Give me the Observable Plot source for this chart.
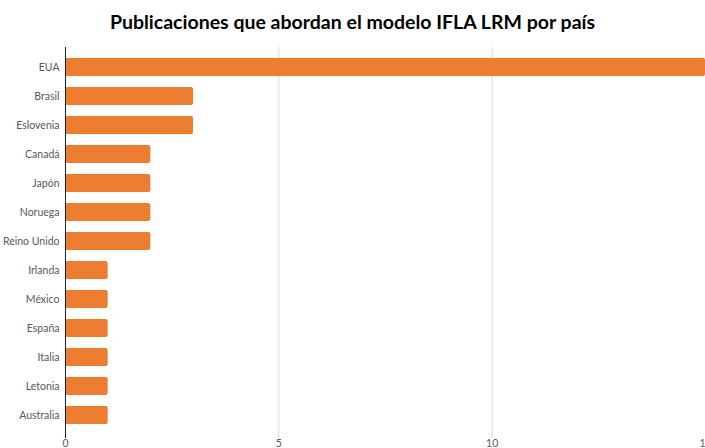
<!DOCTYPE html>
<html>
<head>
<meta charset="utf-8">
<script src="https://cdn.jsdelivr.net/npm/d3@7"></script>
<script src="https://cdn.jsdelivr.net/npm/@observablehq/plot@0.6"></script>
<style>
  html, body { margin: 0; padding: 0; background: #fff; overflow: hidden; }
  #title { height: 45px; line-height: 44px; text-align: center; font-family: Lato, "Open Sans", sans-serif; font-weight: bold; font-size: 19.5px; color: #000; }
  #chart svg { display: block; }
</style>
</head>
<body>
<div id="title">Publicaciones que abordan el modelo IFLA LRM por país</div>
<div id="chart"></div>
<script>
const countries = ["EUA", "Brasil", "Eslovenia", "Canadá", "Japón", "Noruega", "Reino Unido", "Irlanda", "México", "España", "Italia", "Letonia", "Australia"];
const counts = [15, 3, 3, 2, 2, 2, 2, 1, 1, 1, 1, 1, 1];
const xTicks = [0, 5, 10, 15];

const data = countries.map((c, i) => ({country: c, value: counts[i]}));

const chart = Plot.plot({
  width: 705,
  height: 403,
  marginTop: 2,
  marginBottom: 13,
  marginLeft: 65,
  marginRight: 0,
  style: {fontFamily: "Lato, 'Open Sans', sans-serif", fontSize: "10.5px", color: "#595959", background: "#fff", overflow: "visible"},
  x: {domain: [0, 15], ticks: xTicks, tickSize: 0, tickPadding: 5, label: null},
  y: {domain: countries, padding: 0.38, round: false, tickSize: 0, tickPadding: 6, label: null},
  marks: [
    Plot.ruleX(xTicks.slice(1), {stroke: "#d9d9d9", strokeWidth: 1, insetBottom: -3}),
    Plot.barX(data, {x: "value", y: "country", fill: "#ED7D31", rx: 2}),
    Plot.ruleX([0], {stroke: "#222", strokeWidth: 1, insetBottom: -3}),
    Plot.axisX({ticks: xTicks, tickSize: 0, tickPadding: 4, fill: "#595959"}),
    Plot.axisY({tickSize: 0, tickPadding: 6, fill: "#595959"})
  ]
});
document.getElementById("chart").appendChild(chart);
</script>
</body>
</html>
